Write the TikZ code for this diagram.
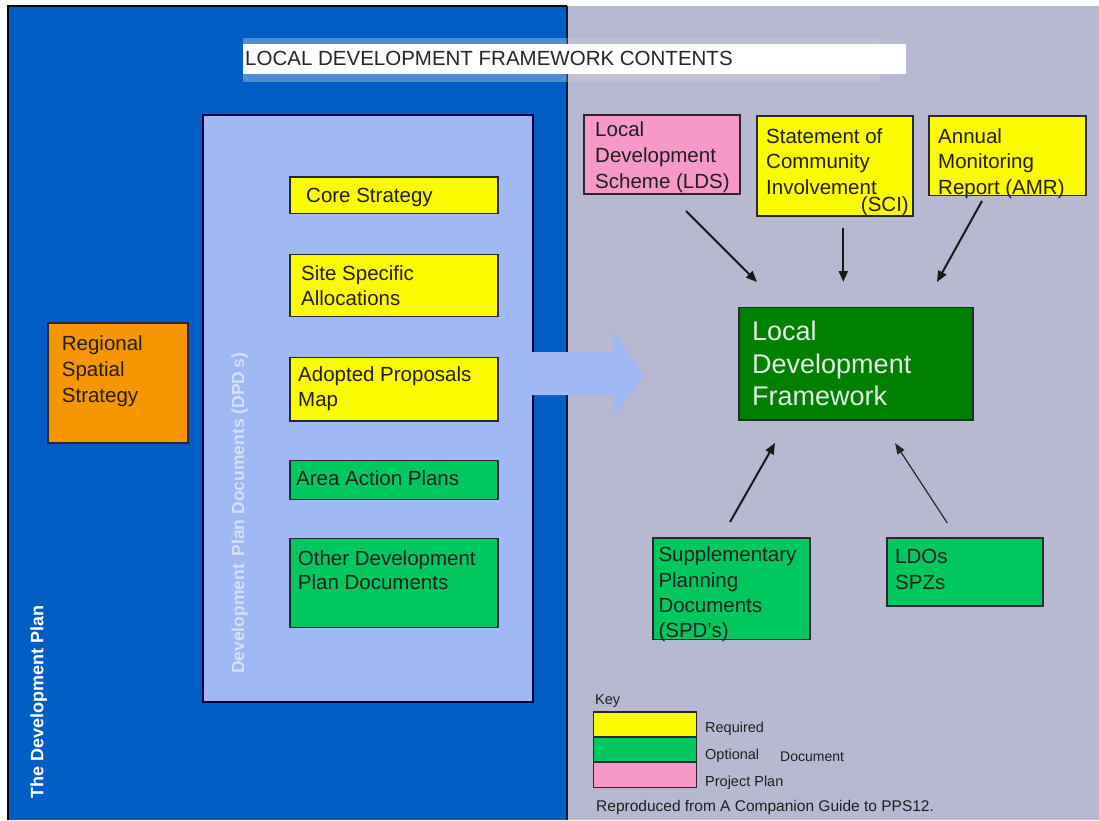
\documentclass[tikz,border=0pt]{standalone}
\usepackage{fontspec}
\setmainfont{Liberation Sans}
\usetikzlibrary{arrows.meta}
\definecolor{bluebg}{RGB}{0,94,196}
\definecolor{greybg}{RGB}{184,184,208}
\definecolor{dpdblue}{RGB}{160,184,244}
\definecolor{reqyellow}{RGB}{250,250,0}
\definecolor{optgreen}{RGB}{0,200,95}
\definecolor{darkgreen}{RGB}{0,128,0}
\definecolor{pinkplan}{RGB}{247,153,200}
\definecolor{orangebox}{RGB}{245,150,0}
\definecolor{edgecol}{RGB}{40,40,50}
\definecolor{dpdtext}{RGB}{215,225,245}
\definecolor{ldftext}{RGB}{232,236,232}
\newcommand{\mylines}[1]{\begin{tabular}[t]{@{}l@{}}#1\end{tabular}}
\begin{document}
\begin{tikzpicture}[x=1pt,y=-1pt,
  box/.style={draw=edgecol, line width=1.3pt, inner sep=0pt, outer sep=0pt, anchor=north west},
  txt/.style={anchor=base west, inner sep=0pt, text=black!88},
  tA/.style={txt, font=\fontsize{20.5}{24.3}\selectfont},
  tB/.style={txt, font=\fontsize{20.5}{25.8}\selectfont},
  tkey/.style={txt, font=\fontsize{14.5}{17}\selectfont},
  arr/.style={-{Triangle[length=11pt,width=9pt]}, line width=2pt, black!90},
  arrthin/.style={-{Triangle[length=11pt,width=8pt]}, line width=1.2pt, black!85}
]
\useasboundingbox (0,0) rectangle (1099,820);
\fill[white] (0,0) rectangle (1099,820);
% panels
\fill[bluebg] (8,6) rectangle (567,820);
\fill[greybg] (567,6) rectangle (1099,820);
\draw[black, line width=1.5pt] (8,820) -- (8,6) -- (567,6);
\draw[black!70!bluebg, line width=1.2pt] (567,6) -- (567,820);
% title
\fill[white, opacity=0.3] (243,38) rectangle (567,82);
\fill[white, opacity=0.12] (567,38) rectangle (880,82);
\fill[white] (243,44) rectangle (906,74);
\node[anchor=base west, inner sep=0pt, font=\fontsize{20.5}{24}\selectfont, text=black!85] (title) at (245,65) {LOCAL DEVELOPMENT FRAMEWORK CONTENTS};
% left side
\node[box, fill=orangebox, minimum width=140pt, minimum height=120pt] (rss) at (48,323) {};
\node[tB] (trss) at (61.7,350.7) {\mylines{Regional\\Spatial\\Strategy}};
\node[rotate=90, inner sep=0pt, font=\bfseries\fontsize{18}{20}\selectfont, text=white] (tdp) at (38.8,701.5) {The Development Plan};
% DPD panel
\node[box, draw=black!80!blue, line width=1.4pt, fill=dpdblue, minimum width=330pt, minimum height=587pt] (dpd) at (203,115) {};
\fill[dpdblue] (531,352) -- (614,352) -- (614,332) -- (644,375) -- (614,417) -- (614,395) -- (531,395) -- cycle;
\node[rotate=90, inner sep=0pt, font=\bfseries\fontsize{17.5}{20}\selectfont, text=dpdtext] (tdpd) at (239.5,513.5) {Development\, Plan Documents (DPD\,s)};
\node[box, fill=reqyellow, minimum width=208pt, minimum height=36.6pt] (core) at (290,177) {};
\node[tA] (tcore) at (306,202.7) {Core Strategy};
\node[box, fill=reqyellow, minimum width=208pt, minimum height=62.4pt] (site) at (290,254.3) {};
\node[tA] (tsite) at (301,280.7) {\mylines{Site Specific\\Allocations}};
\node[box, fill=reqyellow, minimum width=208pt, minimum height=63.7pt] (apm) at (290,357.3) {};
\node[tA, font=\fontsize{20.5}{25}\selectfont] (tapm) at (298,381.7) {\mylines{Adopted Proposals\\Map}};
\node[box, fill=optgreen, minimum width=208pt, minimum height=38.6pt] (aap) at (290,460.7) {};
\node[tA] (taap) at (296,485) {Area Action Plans};
\node[box, fill=optgreen, minimum width=208pt, minimum height=89.4pt] (odpd) at (290,538.3) {};
\node[tA] (todpd) at (297.7,565) {\mylines{Other Development\\Plan Documents}};
% right side top
\node[box, fill=pinkplan, minimum width=156pt, minimum height=79pt] (lds) at (584,115) {};
\node[tB] (tlds) at (595,136.4) {\mylines{Local\\Development\\Scheme (LDS)}};
\node[box, fill=reqyellow, minimum width=156pt, minimum height=100pt] (sci) at (757,116) {};
\node[tB] (tsci) at (766,143) {\mylines{Statement of\\Community\\Involvement}};
\node[txt, anchor=base east, font=\fontsize{20.5}{25.8}\selectfont] (tscib) at (909,211) {(SCI)};
\node[box, fill=reqyellow, minimum width=157pt, minimum height=79.5pt] (amr) at (929,116) {};
\node[tB] (tamr) at (938,143) {\mylines{Annual\\Monitoring\\Report (AMR)}};
% LDF
\node[box, fill=darkgreen, minimum width=234pt, minimum height=112.5pt] (ldf) at (739,307.5) {};
\node[txt, text=ldftext, font=\fontsize{27}{32.4}\selectfont] (tldf) at (752,340.6) {\mylines{Local\\Development\\Framework}};
% bottom
\node[box, fill=optgreen, minimum width=157pt, minimum height=101.6pt] (spd) at (653,538) {};
\node[tB, font=\fontsize{20.5}{25.4}\selectfont] (tspd) at (658.3,561.7) {\mylines{Supplementary\\Planning\\Documents\\(SPD's)}};
\node[box, fill=optgreen, minimum width=156pt, minimum height=68pt] (ldo) at (887,538) {};
\node[tB, font=\fontsize{20.5}{26}\selectfont] (tldo) at (895,563.3) {\mylines{LDOs\\SPZs}};
% arrow ends
\coordinate (a1s) at (686,211);
\coordinate (a1e) at (757,282);
\coordinate (a2s) at (843.3,228);
\coordinate (a2e) at (843.3,282);
\coordinate (a3s) at (982,201);
\coordinate (a3e) at (937,282);
\coordinate (a4s) at (730,522);
\coordinate (a4e) at (775,443);
\coordinate (a5s) at (947.3,523);
\coordinate (a5e) at (895,443);
\draw[arr] (a1s) -- (a1e);
\draw[arr] (a2s) -- (a2e);
\draw[arr] (a3s) -- (a3e);
\draw[arr] (a4s) -- (a4e);
\draw[arrthin] (a5s) -- (a5e);
% key
\node[tkey] (tkeyt) at (595,704) {Key};
\node[box, line width=1.2pt, fill=reqyellow, minimum width=103pt, minimum height=25pt] (kreq) at (593.5,712) {};
\node[box, line width=1.2pt, fill=optgreen, minimum width=103pt, minimum height=25pt] (kopt) at (593.5,737) {};
\node[box, line width=1.2pt, fill=pinkplan, minimum width=103pt, minimum height=25.5pt] (kpp) at (593.5,762) {};
\node[tkey] (treq) at (705,732.7) {Required};
\node[tkey] (topt) at (705,759) {Optional};
\node[txt, font=\fontsize{14}{16}\selectfont] (tdoc) at (780,761.7) {Document};
\node[tkey] (tpp) at (705,786) {Project Plan};
\node[txt, font=\fontsize{15.5}{18}\selectfont] (trep) at (596,811.7) {Reproduced from A Companion Guide to PPS12.};
\end{tikzpicture}
\end{document}
